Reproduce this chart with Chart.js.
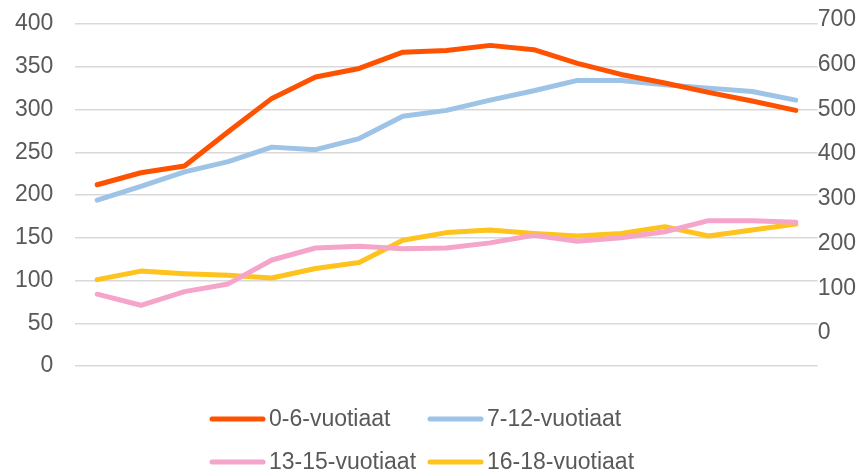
<!DOCTYPE html>
<html lang="fi">
  <head>
    <meta charset="UTF-8" />
    <title>Ikäryhmät</title>
    <script src="https://cdn.jsdelivr.net/npm/chart.js@4.4.1/dist/chart.umd.min.js"></script>
    <style>
      body { margin: 0; background: #fff; }
    </style>
  </head>
  <body>
    <canvas id="age-chart" width="856" height="476"></canvas>
    <script>
      // 17 periods, no labels shown on the x axis
      const periods = ["1", "2", "3", "4", "5", "6", "7", "8", "9", "10", "11", "12", "13", "14", "15", "16", "17"];
      const age0to6 = [212, 226, 234, 274, 313, 338, 348, 367, 369, 375, 370, 354, 341, 331, 320, 310, 299];
      const age7to12 = [194, 210, 227, 239, 256, 253, 266, 292, 299, 311, 322, 334, 334, 329, 325, 321, 311];
      const age13to15 = [84, 71, 87, 96, 124, 138, 140, 137, 138, 144, 153, 146, 150, 157, 170, 170, 168];
      const age16to18 = [101, 111, 108, 106, 103, 114, 121, 147, 156, 159, 155, 152, 155, 163, 152, 159, 166];
      const leftTicks = [0, 50, 100, 150, 200, 250, 300, 350, 400];
      const rightTicks = [0, 100, 200, 300, 400, 500, 600, 700];

      const textColor = "#595959";
      const fontFamily = '"Liberation Sans", Arial, sans-serif';

      function line(label, data, color) {
        return {
          label: label,
          data: data,
          borderColor: color,
          backgroundColor: color,
          borderWidth: 5,
          pointRadius: 0,
          borderJoinStyle: "round",
          borderCapStyle: "round",
          fill: false,
          tension: 0,
        };
      }

      // label padding shouldn't push the plot area down
      function noVerticalPadding(axis) {
        axis.paddingTop = 0;
        axis.paddingBottom = 0;
      }

      // two-column legend below the plot
      const gridLegend = {
        id: "gridLegend",
        afterDraw(chart) {
          const ctx = chart.ctx;
          ctx.save();
          ctx.font = "23px " + fontFamily;
          ctx.textBaseline = "middle";
          ctx.lineCap = "round";
          ctx.lineWidth = 5;
          chart.data.datasets.forEach((ds, i) => {
            const x = 212 + (i % 2) * 218;
            const y = 419 + Math.floor(i / 2) * 43;
            ctx.strokeStyle = ds.borderColor;
            ctx.beginPath();
            ctx.moveTo(x, y);
            ctx.lineTo(x + 51, y);
            ctx.stroke();
            ctx.fillStyle = textColor;
            ctx.fillText(ds.label, x + 57, y + 1);
          });
          ctx.restore();
        },
      };

      const ctx = document.getElementById("age-chart").getContext("2d");
      new Chart(ctx, {
        type: "line",
        data: {
          labels: periods,
          datasets: [
            line("0-6-vuotiaat", age0to6, "#FF5200"),
            line("7-12-vuotiaat", age7to12, "#9DC3E6"),
            line("13-15-vuotiaat", age13to15, "#F4A5C9"),
            line("16-18-vuotiaat", age16to18, "#FFC31E"),
          ],
        },
        plugins: [gridLegend],
        options: {
          responsive: false,
          animation: false,
          layout: { padding: { top: 20, left: -7, right: 0, bottom: 110 } },
          plugins: {
            legend: { display: false },
            tooltip: { enabled: false },
          },
          scales: {
            x: {
              display: false,
              offset: true,
              grid: { display: false },
            },
            y: {
              position: "left",
              min: 0,
              max: 404.68,
              afterBuildTicks: (axis) => {
                axis.ticks = leftTicks.map((v) => ({ value: v }));
              },
              afterFit: noVerticalPadding,
              border: { display: false },
              grid: { color: "#d9d9d9", lineWidth: 1.5, drawTicks: false },
              ticks: {
                padding: 22,
                color: textColor,
                font: { family: fontFamily, size: 23 },
              },
            },
            y2: {
              position: "right",
              min: -73.8,
              max: 700,
              afterBuildTicks: (axis) => {
                axis.ticks = rightTicks.map((v) => ({ value: v }));
              },
              afterFit: noVerticalPadding,
              border: { display: false },
              grid: { display: false, drawTicks: false },
              ticks: {
                padding: 0,
                color: textColor,
                font: { family: fontFamily, size: 23 },
              },
            },
          },
        },
      });
    </script>
  </body>
</html>
